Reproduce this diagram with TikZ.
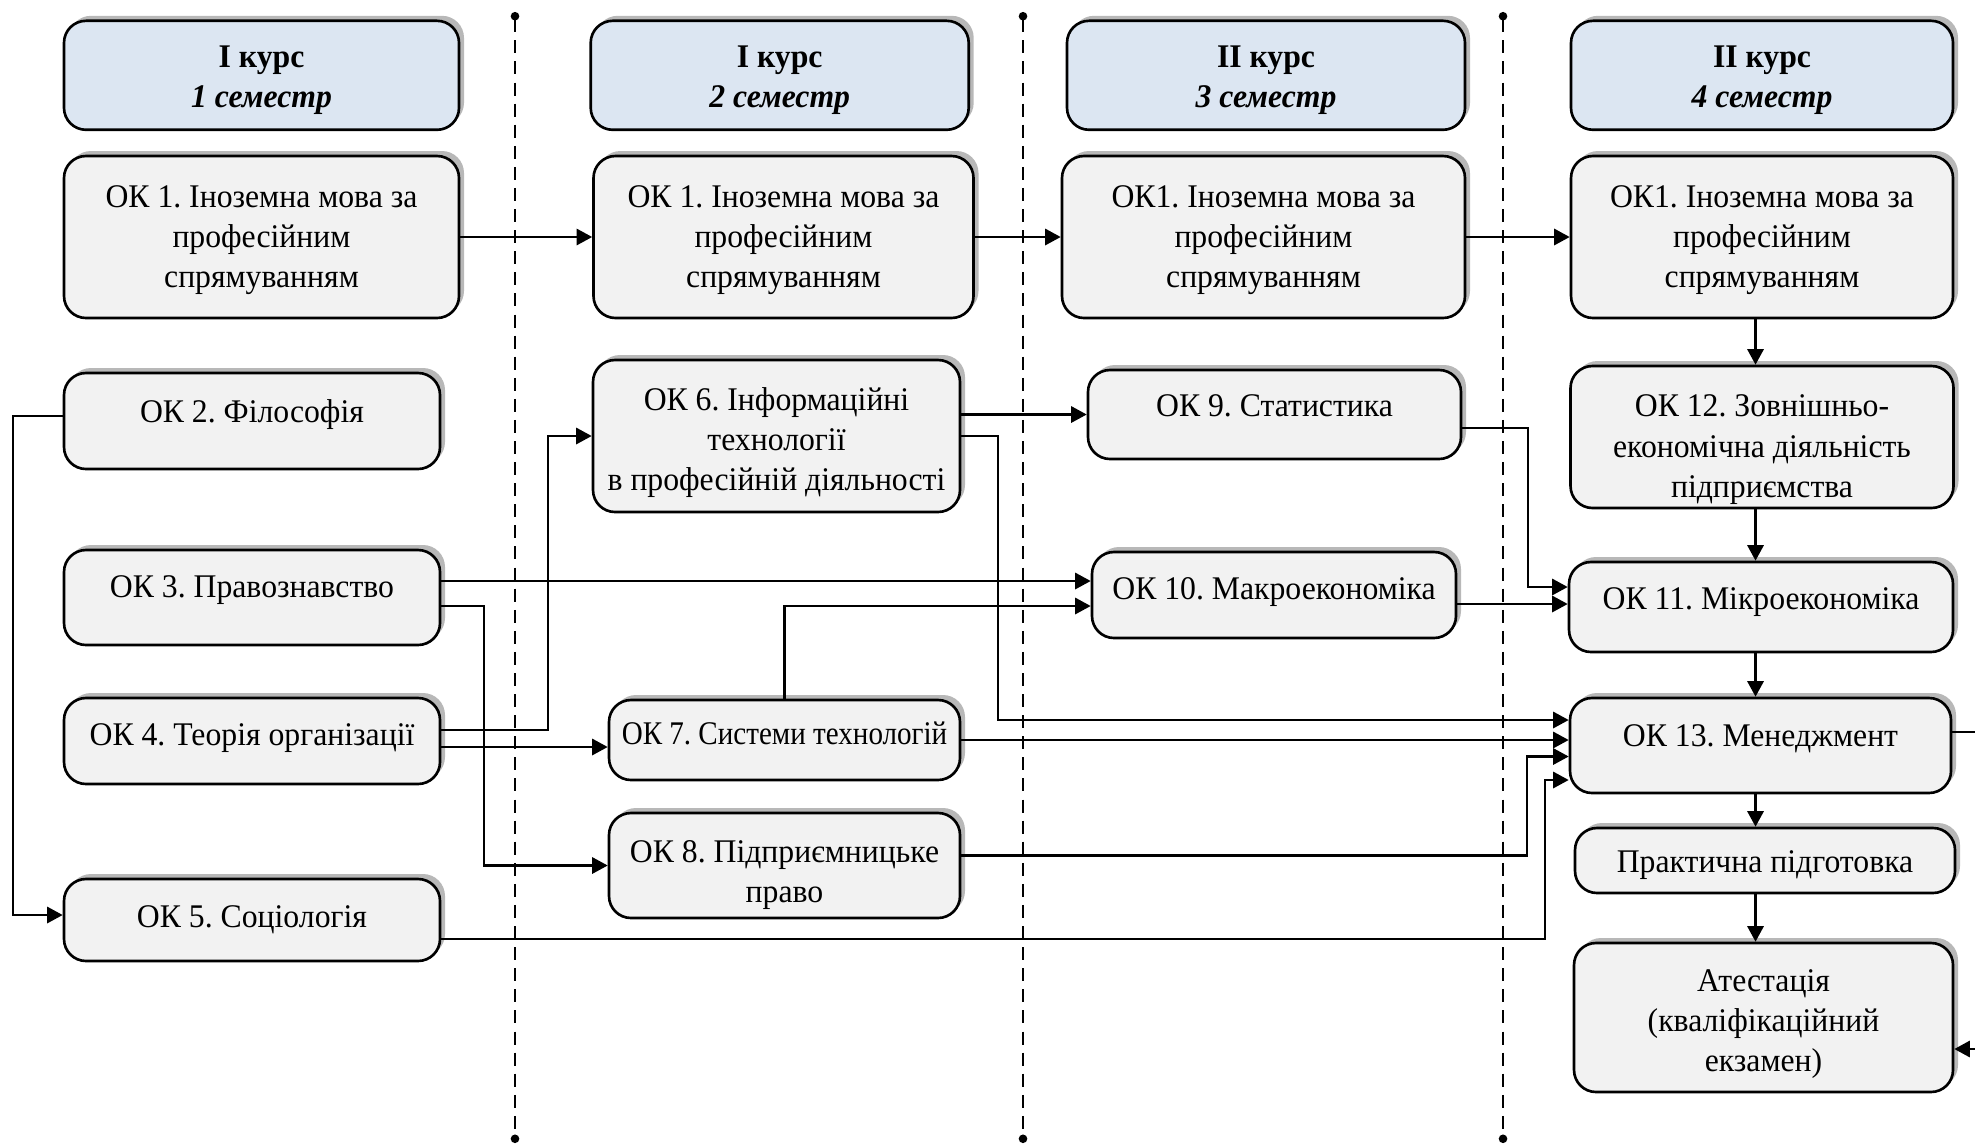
\documentclass[tikz,border=0pt]{standalone}
\usepackage{fontspec}
\setmainfont{Liberation Serif}[FakeStretch=0.96]
\newfontfamily\narrowfont{Liberation Serif}[FakeStretch=0.88]
\usetikzlibrary{arrows.meta,shadows}
\definecolor{headblue}{HTML}{DCE6F2}
\frenchspacing

\begin{document}
\begin{tikzpicture}[
        >={Triangle[length=4.4pt,width=4.6pt]},
        box/.style={draw, line width=0.75pt, rounded corners=0.22cm, fill=gray!10, align=center, inner sep=0pt,
            font=\fontsize{9.4}{11.4}\selectfont,
            drop shadow={shadow xshift=0.05cm, shadow yshift=0.05cm, fill=black!28, opacity=1}},
        head/.style={box, fill=headblue},
        lift/.style={text height=7pt, text depth=#1},
        block/.style={text height=#1, text depth=0pt},
        link/.style={->, line width=0.65pt},
        sep/.style={dashed, dash pattern=on 3.7pt off 2.3pt, line width=0.65pt, {Circle[length=2.4pt]}-{Circle[length=2.4pt]}}
    ]
        \useasboundingbox (0,0) rectangle (19.75,-11.46);

        % semester headers
        \node[head, block=18.6pt, minimum width=3.95cm, minimum height=1.09cm] (h1) at (2.615, -0.753) {\textbf{І курс}\\\textbf{\textit{1 семестр}}};
        \node[head, block=18.6pt, minimum width=3.78cm, minimum height=1.09cm] (h2) at (7.797, -0.753) {\textbf{І курс}\\\textbf{\textit{2 семестр}}};
        \node[head, block=18.6pt, minimum width=3.98cm, minimum height=1.09cm] (h3) at (12.66, -0.753) {\textbf{ІІ курс}\\\textbf{\textit{3 семестр}}};
        \node[head, block=18.6pt, minimum width=3.82cm, minimum height=1.09cm] (h4) at (17.62, -0.753) {\textbf{ІІ курс}\\\textbf{\textit{4 семестр}}};

        % separators
        \coordinate (t1) at (5.15, -0.12);
        \coordinate (b1) at (5.15, -11.43);
        \coordinate (t2) at (10.23, -0.12);
        \coordinate (b2) at (10.23, -11.43);
        \coordinate (t3) at (15.03, -0.12);
        \coordinate (b3) at (15.03, -11.43);
        \draw[sep] (t1) -- (b1);
        \draw[sep] (t2) -- (b2);
        \draw[sep] (t3) -- (b3);

        % foreign language, all four semesters
        \node[box, block=28.6pt, minimum width=3.95cm, minimum height=1.62cm] (a1) at (2.615, -2.37) {ОК 1. Іноземна мова за\\професійним\\спрямуванням};
        \node[box, block=28.6pt, minimum width=3.80cm, minimum height=1.62cm] (a2) at (7.835, -2.37) {ОК 1. Іноземна мова за\\професійним\\спрямуванням};
        \node[box, block=28.6pt, minimum width=4.03cm, minimum height=1.62cm] (a3) at (12.635, -2.37) {ОК1. Іноземна мова за\\професійним\\спрямуванням};
        \node[box, block=28.6pt, minimum width=3.82cm, minimum height=1.62cm] (a4) at (17.62, -2.37) {ОК1. Іноземна мова за\\професійним\\спрямуванням};

        % 1 semester
        \node[box, lift=6pt, minimum width=3.76cm, minimum height=0.96cm] (k2) at (2.52, -4.21) {ОК 2. Філософія};
        \node[box, lift=7.1pt, minimum width=3.76cm, minimum height=0.95cm] (k3) at (2.52, -5.975) {ОК 3. Правознавство};
        \node[box, lift=4.3pt, minimum width=3.76cm, minimum height=0.86cm] (k4) at (2.52, -7.41) {ОК 4. Теорія організації};
        \node[box, lift=2.6pt, minimum width=3.76cm, minimum height=0.82cm] (k5) at (2.52, -9.20) {ОК 5. Соціологія};

        % 2 semester
        \node[box, block=30.9pt, minimum width=3.67cm, minimum height=1.52cm] (k6) at (7.765, -4.36) {ОК 6. Інформаційні\\технології\\в професійній діяльності};
        \node[box, lift=4.3pt, minimum width=3.51cm, minimum height=0.80cm] (k7) at (7.845, -7.40) {\narrowfont ОК 7. Системи технологій};
        \node[box, block=20.9pt, minimum width=3.51cm, minimum height=1.05cm] (k8) at (7.845, -8.655) {ОК 8. Підприємницьке\\право};

        % 3 semester
        \node[box, lift=5.6pt, minimum width=3.73cm, minimum height=0.89cm] (k9) at (12.745, -4.145) {ОК 9. Статистика};
        \node[box, lift=4.3pt, minimum width=3.64cm, minimum height=0.86cm] (k10) at (12.74, -5.95) {ОК 10. Макроекономіка};

        % 4 semester
        \node[box, block=34.2pt, minimum width=3.83cm, minimum height=1.42cm] (k12) at (17.62, -4.37) {ОК 12. Зовнішньо-\\економічна діяльність\\підприємства};
        \node[box, lift=5.4pt, minimum width=3.84cm, minimum height=0.90cm] (k11) at (17.61, -6.07) {ОК 11. Мікроекономіка};
        \node[box, lift=6.6pt, minimum width=3.81cm, minimum height=0.95cm] (k13) at (17.605, -7.455) {ОК 13. Менеджмент};
        \node[box, lift=0pt, minimum width=3.80cm, minimum height=0.65cm] (pr) at (17.65, -8.605) {Практична підготовка};
        \node[box, block=30.9pt, minimum width=3.79cm, minimum height=1.49cm] (at) at (17.635, -10.175) {Атестація\\(кваліфікаційний\\екзамен)};

        \draw[link] (a1) -- (a2);
        \draw[link] (a2) -- (a3);
        \draw[link] (a3) -- (a4);

        \coordinate (vx) at (17.555, 0);
        \draw[link] (a4.south -| vx) -- (k12.north -| vx);
        \draw[link] (k12.south -| vx) -- (k11.north -| vx);
        \draw[link] (k11.south -| vx) -- (k13.north -| vx);
        \draw[link] (k13.south -| vx) -- (pr.north -| vx);
        \draw[link] (pr.south -| vx) -- (at.north -| vx);

        \draw[link] ([yshift=0.5mm]k2.west) -- ++(-0.5,0) |- ([yshift=0.5mm]k5.west);
        \draw[link] ([yshift=1.65mm]k3.east) -- ([yshift=1.65mm]k3.east -| k10.west);
        \draw[link] ([yshift=-0.85mm]k3.east) -- ++(0.43,0) |- (k8.west);
        \draw[link] ([yshift=1.1mm]k4.east) -- ++(1.07,0) |- (k6.west);
        \draw[link] ([yshift=-0.6mm]k4.east) -- ([yshift=-0.6mm]k4.east -| k7.west);

        \draw[link] (k9.west -| k6.east) -- (k9.west);
        \draw[link] (k6.east) -- ++(0.37,0) |- ([yshift=2.55mm]k13.west);
        \draw[link] (k7.north) |- ([yshift=-1.1mm]k10.west);
        \draw[link] (k7.east) -- (k7.east -| k13.west);
        \draw[link] ([yshift=1mm]k8.east) -- ++(5.66,0) |- ([yshift=-1.1mm]k13.west);
        \draw[link] ([yshift=-1.9mm]k5.east) -- ++(11.04,0) |- ([yshift=-3.45mm]k13.west);

        \draw[link] ([yshift=-1.35mm]k9.east) -- ++(0.66,0) |- ([yshift=2mm]k11.west);
        \draw[link] ([yshift=-0.9mm]k10.east) -- ([yshift=-0.9mm]k10.east -| k11.west);
        \draw[link] ([yshift=1.35mm]k13.east) -- ++(0.5,0) |- ([yshift=-3.15mm]at.east);
    \end{tikzpicture}
\end{document}
